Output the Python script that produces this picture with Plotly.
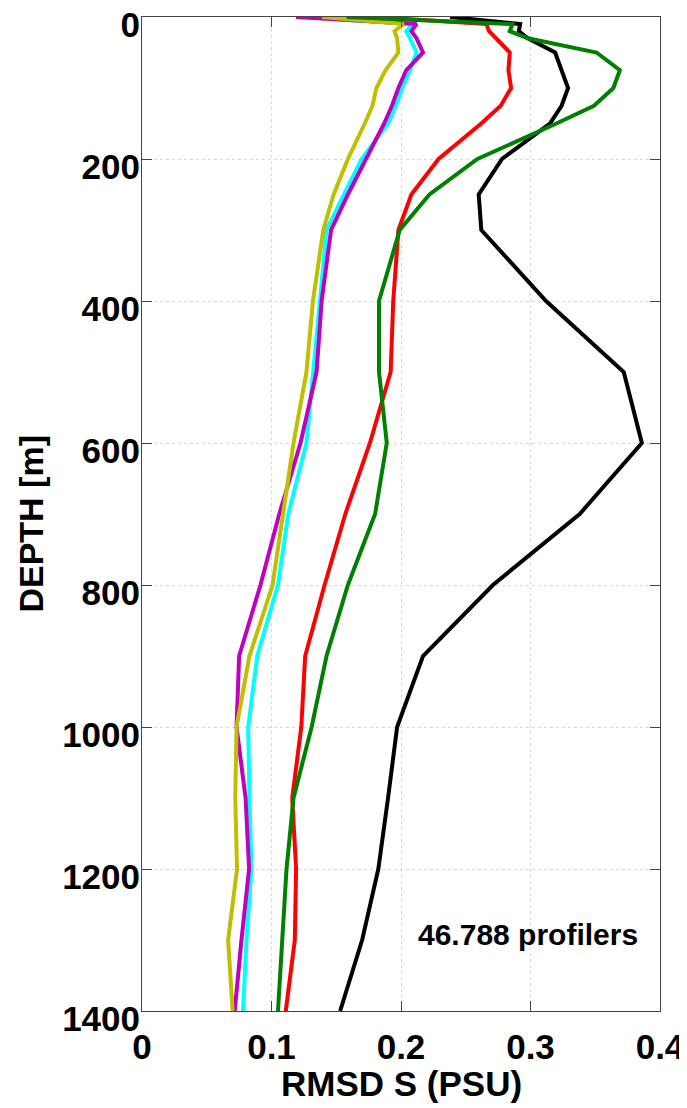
import plotly.graph_objects as go

depth = [0, 10, 20, 30, 50, 75, 100, 125, 150, 200, 250, 300, 400, 500, 600,
         700, 800, 900, 1000, 1100, 1200, 1300, 1400]

black = [0.238, 0.292, 0.291, 0.298, 0.319, 0.324, 0.329, 0.324, 0.315, 0.278, 0.260, 0.262,
         0.312, 0.372, 0.386, 0.338, 0.271, 0.217, 0.197, 0.190, 0.1825, 0.170, 0.153]
red = [0.180, 0.266, 0.268, 0.273, 0.284, 0.283, 0.285, 0.277, 0.262, 0.229, 0.208, 0.198,
       0.194, 0.192, 0.176, 0.157, 0.141, 0.126, 0.123, 0.116, 0.119, 0.118, 0.111]
cyan = [0.124, 0.209, 0.204, 0.207, 0.212, 0.207, 0.201, 0.196, 0.190, 0.1696, 0.156, 0.1425,
        0.1374, 0.132, 0.127, 0.113, 0.105, 0.089, 0.082, 0.083, 0.0845, 0.0807, 0.078]
magenta = [0.119, 0.212, 0.208, 0.212, 0.217, 0.204, 0.198, 0.193, 0.187, 0.173, 0.159, 0.146,
           0.1387, 0.1348, 0.1224, 0.106, 0.0915, 0.075, 0.073, 0.080, 0.0827, 0.0768, 0.0716]
yellow = [0.139, 0.202, 0.195, 0.197, 0.198, 0.188, 0.181, 0.178, 0.172, 0.159, 0.148, 0.140,
          0.132, 0.127, 0.117, 0.109, 0.1008, 0.083, 0.073, 0.072, 0.0734, 0.0665, 0.070]
green = [0.158, 0.286, 0.284, 0.298, 0.351, 0.369, 0.364, 0.349, 0.320, 0.259, 0.222, 0.199,
         0.183, 0.183, 0.189, 0.180, 0.159, 0.1425, 0.131, 0.117, 0.1116, 0.1085, 0.105]

x_ticks = [0, 0.1, 0.2, 0.3, 0.4]
x_tick_labels = ["0", "0.1", "0.2", "0.3", "0.4"]
y_ticks = [0, 200, 400, 600, 800, 1000, 1200, 1400]

series = [
    ("black", black, "#000000"),
    ("red", red, "#ff0000"),
    ("cyan", cyan, "#00ffff"),
    ("magenta", magenta, "#bf00bf"),
    ("yellow", yellow, "#bfbf00"),
    ("green", green, "#008000"),
]

FONT = "Liberation Sans, Arial, sans-serif"

fig = go.Figure()
for name, vals, col in series:
    fig.add_trace(go.Scatter(x=vals, y=depth, mode="lines", name=name,
                             line=dict(color=col, width=4), showlegend=False,
                             cliponaxis=False))

axis_common = dict(
    showline=True, mirror="ticks", linecolor="#444444", linewidth=1,
    ticks="inside", ticklen=10, tickcolor="#444444", tickwidth=1,
    showgrid=True, gridcolor="#d9d9d9", griddash="dot", gridwidth=1,
    zeroline=False, automargin=False, ticklabeloverflow="allow",
    tickfont=dict(family=FONT, size=35, color="black", weight="bold"),
)

fig.update_xaxes(range=[0, 0.4], tickvals=x_ticks, ticktext=x_tick_labels,
                 ticklabelstandoff=5, **axis_common)
fig.update_yaxes(range=[1400, 0], tickvals=y_ticks, ticklabelstandoff=-6,
                 ticklabelshift=-8, **axis_common)

fig.add_annotation(x=0.298, y=1292, text="<b>46.788 profilers</b>", showarrow=False,
                   font=dict(family=FONT, size=30, color="black"), xanchor="center", yanchor="middle")
# axis titles
fig.add_annotation(xref="paper", yref="paper", x=0.5, y=-0.073, text="<b>RMSD S (PSU)</b>",
                   showarrow=False, xanchor="center", yanchor="middle",
                   font=dict(family=FONT, size=35, color="black"))
fig.add_annotation(xref="paper", yref="paper", x=-0.215, y=0.49, text="<b>DEPTH [m]</b>",
                   showarrow=False, xanchor="center", yanchor="middle", textangle=-90,
                   font=dict(family=FONT, size=34, color="black"))

fig.update_layout(
    width=687, height=1108,
    margin=dict(l=134, r=35, t=9, b=105),
    paper_bgcolor="white", plot_bgcolor="white",
)

fig.write_html("out.html")
